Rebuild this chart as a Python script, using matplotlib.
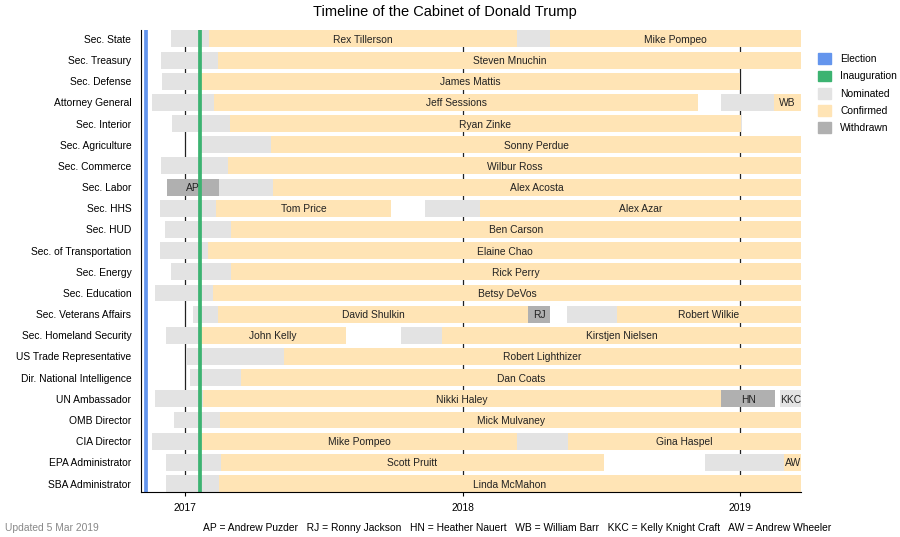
import matplotlib.pyplot as plt
import matplotlib.dates as mdates
from matplotlib.patches import Patch
import pandas as pd

plt.rcParams['font.family'] = ['Liberation Sans', 'DejaVu Sans']

roles = ['Sec. State', 'Sec. Treasury', 'Sec. Defense', 'Attorney General', 'Sec. Interior',
         'Sec. Agriculture', 'Sec. Commerce', 'Sec. Labor', 'Sec. HHS', 'Sec. HUD',
         'Sec. of Transportation', 'Sec. Energy', 'Sec. Education', 'Sec. Veterans Affairs',
         'Sec. Homeland Security', 'US Trade Representative', 'Dir. National Intelligence',
         'UN Ambassador', 'OMB Director', 'CIA Director', 'EPA Administrator', 'SBA Administrator']

END = '2019-03-22'

# (role, start, end, label)
nominated = [
    ('Sec. State', '2016-12-13', '2017-02-01', ''),
    ('Sec. State', '2018-03-13', '2018-04-26', ''),
    ('Sec. Treasury', '2016-11-30', '2017-02-13', ''),
    ('Sec. Defense', '2016-12-01', '2017-01-20', ''),
    ('Attorney General', '2016-11-18', '2017-02-08', ''),
    ('Attorney General', '2018-12-07', '2019-02-14', ''),
    ('Sec. Interior', '2016-12-15', '2017-03-01', ''),
    ('Sec. Agriculture', '2017-01-19', '2017-04-24', ''),
    ('Sec. Commerce', '2016-11-30', '2017-02-27', ''),
    ('Sec. Labor', '2017-02-15', '2017-04-27', ''),
    ('Sec. HHS', '2016-11-29', '2017-02-10', ''),
    ('Sec. HHS', '2017-11-13', '2018-01-24', ''),
    ('Sec. HUD', '2016-12-05', '2017-03-02', ''),
    ('Sec. of Transportation', '2016-11-29', '2017-01-31', ''),
    ('Sec. Energy', '2016-12-14', '2017-03-02', ''),
    ('Sec. Education', '2016-11-23', '2017-02-07', ''),
    ('Sec. Veterans Affairs', '2017-01-11', '2017-02-13', ''),
    ('Sec. Veterans Affairs', '2018-05-18', '2018-07-23', ''),
    ('Sec. Homeland Security', '2016-12-07', '2017-01-20', ''),
    ('Sec. Homeland Security', '2017-10-12', '2017-12-05', ''),
    ('US Trade Representative', '2017-01-03', '2017-05-11', ''),
    ('Dir. National Intelligence', '2017-01-07', '2017-03-15', ''),
    ('UN Ambassador', '2016-11-23', '2017-01-24', ''),
    ('UN Ambassador', '2019-02-22', END, 'KKC'),
    ('OMB Director', '2016-12-17', '2017-02-16', ''),
    ('CIA Director', '2016-11-18', '2017-01-23', ''),
    ('CIA Director', '2018-03-13', '2018-05-20', ''),
    ('EPA Administrator', '2016-12-07', '2017-02-17', ''),
    ('EPA Administrator', '2018-11-16', '2019-02-28', ''),
    ('SBA Administrator', '2016-12-07', '2017-02-14', ''),
]

confirmed = [
    ('Sec. State', '2017-02-01', '2018-03-13', 'Rex Tillerson'),
    ('Sec. State', '2018-04-26', END, 'Mike Pompeo'),
    ('Sec. Treasury', '2017-02-13', END, 'Steven Mnuchin'),
    ('Sec. Defense', '2017-01-20', '2019-01-01', 'James Mattis'),
    ('Attorney General', '2017-02-08', '2018-11-07', 'Jeff Sessions'),
    ('Attorney General', '2019-02-14', END, 'WB'),
    ('Sec. Interior', '2017-03-01', '2019-01-02', 'Ryan Zinke'),
    ('Sec. Agriculture', '2017-04-24', END, 'Sonny Perdue'),
    ('Sec. Commerce', '2017-02-27', END, 'Wilbur Ross'),
    ('Sec. Labor', '2017-04-27', END, 'Alex Acosta'),
    ('Sec. HHS', '2017-02-10', '2017-09-29', 'Tom Price'),
    ('Sec. HHS', '2018-01-24', END, 'Alex Azar'),
    ('Sec. HUD', '2017-03-02', END, 'Ben Carson'),
    ('Sec. of Transportation', '2017-01-31', END, 'Elaine Chao'),
    ('Sec. Energy', '2017-03-02', END, 'Rick Perry'),
    ('Sec. Education', '2017-02-07', END, 'Betsy DeVos'),
    ('Sec. Veterans Affairs', '2017-02-13', '2018-03-28', 'David Shulkin'),
    ('Sec. Veterans Affairs', '2018-07-23', END, 'Robert Wilkie'),
    ('Sec. Homeland Security', '2017-01-20', '2017-07-31', 'John Kelly'),
    ('Sec. Homeland Security', '2017-12-05', END, 'Kirstjen Nielsen'),
    ('US Trade Representative', '2017-05-11', END, 'Robert Lighthizer'),
    ('Dir. National Intelligence', '2017-03-15', END, 'Dan Coats'),
    ('UN Ambassador', '2017-01-24', '2018-12-07', 'Nikki Haley'),
    ('OMB Director', '2017-02-16', END, 'Mick Mulvaney'),
    ('CIA Director', '2017-01-23', '2018-03-13', 'Mike Pompeo'),
    ('CIA Director', '2018-05-20', END, 'Gina Haspel'),
    ('EPA Administrator', '2017-02-17', '2018-07-06', 'Scott Pruitt'),
    ('EPA Administrator', '2019-02-28', END, 'AW'),
    ('SBA Administrator', '2017-02-14', END, 'Linda McMahon'),
]

withdrawn = [
    ('Sec. Labor', '2016-12-08', '2017-02-15', 'AP'),
    ('Sec. Veterans Affairs', '2018-03-28', '2018-04-26', 'RJ'),
    ('UN Ambassador', '2018-12-07', '2019-02-16', 'HN'),
]

election = '2016-11-10'
inauguration = '2017-01-21'
years = ['2017-01-01', '2018-01-01', '2019-01-01']

colors = {'Election': '#6495ED', 'Inauguration': '#3CB371', 'Nominated': '#E3E3E3',
          'Confirmed': '#FFE4B5', 'Withdrawn': '#B0B0B0'}

fs = 7.4

fig = plt.figure(figsize=(9, 5.37), dpi=100)
ax = fig.add_axes([0.1567, 0.0838, 0.7333, 0.8595])

row = {r: i for i, r in enumerate(roles)}
d = lambda s: mdates.date2num(pd.Timestamp(s))

for y in years:
    ax.axvline(d(y), color='#222222', lw=0.9, zorder=0)

for segs, kind in [(nominated, 'Nominated'), (confirmed, 'Confirmed'), (withdrawn, 'Withdrawn')]:
    for role, s, e, lab in segs:
        x0, x1 = d(s), d(e)
        ax.barh(row[role], x1 - x0, left=x0, height=0.8, color=colors[kind], zorder=1)
        if lab:
            ax.text((x0 + x1) / 2, row[role], lab, ha='center', va='center_baseline',
                    fontsize=fs, color='#222222', zorder=3)

ax.axvline(d(election), color=colors['Election'], lw=2.7, zorder=2)
ax.axvline(d(inauguration), color=colors['Inauguration'], lw=2.7, zorder=2)

ax.set_xlim(d('2016-11-04'), d(END))
ax.set_ylim(len(roles) - 0.6, -0.4)
ax.set_yticks(range(len(roles)))
ax.set_yticklabels(roles, fontsize=fs)
ax.tick_params(axis='y', length=0, pad=7)
ax.set_xticks([d(y) for y in years])
ax.set_xticklabels(['2017', '2018', '2019'], fontsize=fs)
ax.tick_params(axis='x', length=3, pad=5)
for s in ['top', 'right']:
    ax.spines[s].set_visible(False)

handles = [Patch(color=colors[k], label=k) for k in colors]
ax.legend(handles=handles, loc='upper left', bbox_to_anchor=(1.0145, 0.966), frameon=False,
          fontsize=fs, handlelength=1.25, handleheight=1.25, handletextpad=0.95, labelspacing=0.62,
          borderaxespad=0.3)

fig.text(0.494, 0.977, 'Timeline of the Cabinet of Donald Trump', ha='center', va='center', fontsize=10.5)
fig.text(0.006, 0.017, 'Updated 5 Mar 2019', ha='left', va='center', fontsize=fs, color='#888888')
fig.text(0.575, 0.017, 'AP = Andrew Puzder   RJ = Ronny Jackson   HN = Heather Nauert   '
         'WB = William Barr   KKC = Kelly Knight Craft   AW = Andrew Wheeler',
         ha='center', va='center', fontsize=fs)

fig.savefig('out.png', dpi=100)
